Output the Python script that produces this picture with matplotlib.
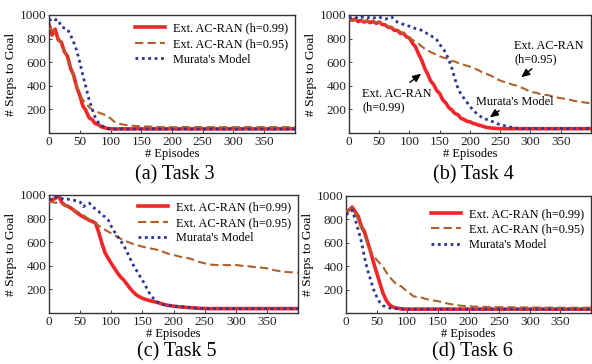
import matplotlib
matplotlib.use("Agg")
import matplotlib.pyplot as plt

episodes = list(range(0, 401, 5))

# ---- Task 3 ----
red_a = [920, 830, 880, 790, 770, 690, 650, 550, 490, 390, 320, 230, 190, 130, 115, 80, 72, 52, 46, 38,
         36, 35, 34, 35, 36, 35, 34, 35, 35, 36, 34, 35, 35, 34, 36, 35, 35, 34, 35, 36,
         35, 34, 35, 35, 36, 35, 34, 35, 35, 36, 34, 35, 35, 34, 36, 35, 35, 34, 35, 36,
         35, 34, 35, 35, 36, 35, 34, 35, 35, 36, 34, 35, 35, 34, 36, 35, 35, 34, 35, 36, 35]
brown_a = [890, 870, 850, 810, 760, 700, 630, 560, 470, 400, 330, 280, 250, 220, 200, 185, 175, 165, 155, 140,
           125, 100, 85, 78, 72, 68, 65, 62, 60, 58, 57, 56, 55, 54, 53, 52, 51, 50, 50, 50,
           50, 49, 50, 50, 51, 50, 49, 50, 50, 51, 50, 49, 50, 50, 51, 50, 49, 50, 50, 51,
           50, 49, 50, 50, 51, 50, 49, 50, 50, 51, 50, 49, 50, 50, 51, 50, 49, 50, 50, 51, 50]
blue_a = [950, 970, 960, 960, 900, 890, 880, 830, 770, 700, 600, 490, 390, 285, 205, 135, 90, 65, 50, 40,
          35, 33, 33, 34, 33, 33, 34, 33, 33, 34, 33, 33, 34, 33, 33, 34, 33, 33, 34, 33,
          33, 34, 33, 33, 34, 33, 33, 34, 33, 33, 34, 33, 33, 34, 33, 33, 34, 33, 33, 34,
          33, 33, 34, 33, 33, 34, 33, 33, 34, 33, 33, 34, 33, 33, 34, 33, 33, 34, 33, 33, 34]

# ---- Task 4 ----
red_b = [970, 955, 965, 945, 955, 940, 950, 935, 945, 930, 940, 920, 915, 895, 895, 870, 870, 845, 845, 815,
         805, 760, 730, 670, 620, 550, 500, 440, 410, 360, 335, 280, 255, 215, 195, 165, 155, 125, 115, 100,
         95, 82, 75, 65, 60, 50, 46, 42, 40, 38, 37, 36, 37, 36, 36, 37, 36, 36, 37, 36,
         36, 37, 36, 36, 37, 36, 36, 37, 36, 36, 37, 36, 36, 37, 36, 36, 37, 36, 36, 37, 36]
blue_b = [975, 980, 985, 970, 980, 985, 975, 985, 975, 980, 985, 970, 965, 975, 985, 960, 940, 930, 920, 910,
          905, 895, 885, 880, 870, 855, 840, 825, 810, 790, 750, 720, 680, 620, 550, 460, 380, 330, 295, 260,
          225, 195, 170, 150, 130, 120, 110, 100, 92, 80, 70, 65, 58, 52, 46, 42, 40, 38, 38, 38,
          38, 38, 38, 38, 38, 38, 38, 38, 38, 38, 38, 38, 38, 38, 38, 38, 38, 38, 38, 38, 38]
brown_b = [965, 960, 960, 955, 950, 950, 945, 945, 940, 940, 935, 925, 915, 905, 895, 885, 870, 858, 845, 825,
           805, 790, 770, 755, 735, 715, 700, 685, 675, 660, 650, 640, 635, 620, 610, 605, 595, 585, 578, 570,
           562, 550, 540, 530, 515, 506, 495, 485, 470, 455, 445, 435, 425, 420, 410, 405, 395, 385, 375, 362,
           352, 345, 340, 332, 325, 322, 320, 312, 305, 300, 295, 292, 288, 282, 275, 270, 265, 262, 258, 255, 250]

# ---- Task 5 ----
red_c = [950, 960, 970, 1000, 940, 915, 905, 890, 870, 850, 830, 815, 800, 785, 775, 760, 680, 590, 510, 465,
         420, 380, 340, 305, 280, 245, 210, 180, 155, 138, 125, 115, 108, 100, 95, 88, 80, 72, 66, 62,
         58, 55, 52, 50, 48, 46, 44, 42, 40, 39, 38, 37, 37, 37, 37, 37, 37, 37, 37, 37,
         37, 37, 37, 37, 37, 37, 37, 37, 37, 37, 37, 37, 37, 37, 37, 37, 37, 37, 37, 37, 37]
blue_c = [960, 970, 985, 975, 970, 960, 965, 960, 955, 950, 940, 900, 920, 930, 900, 880, 860, 830, 815, 790,
          735, 690, 650, 610, 575, 520, 465, 410, 365, 320, 280, 230, 180, 140, 110, 90, 78, 70, 66, 62,
          58, 56, 54, 52, 50, 47, 45, 42, 40, 39, 38, 37, 37, 37, 37, 37, 37, 37, 37, 37,
          37, 37, 37, 37, 37, 37, 37, 37, 37, 37, 37, 37, 37, 37, 37, 37, 37, 37, 37, 37, 37]
brown_c = [945, 940, 935, 930, 925, 915, 900, 885, 870, 860, 845, 830, 810, 790, 775, 760, 740, 720, 705, 690,
           675, 660, 645, 630, 615, 605, 595, 585, 578, 570, 562, 556, 550, 545, 540, 534, 525, 515, 505, 498,
           491, 485, 478, 472, 468, 463, 455, 445, 435, 428, 421, 415, 410, 408, 406, 407, 408, 405, 406, 407,
           407, 404, 400, 398, 396, 393, 390, 388, 385, 382, 379, 372, 365, 360, 355, 350, 348, 346, 345, 343, 342]

# ---- Task 6 ----
red_d = [860, 880, 905, 865, 825, 740, 695, 610, 525, 430, 345, 260, 175, 115, 75, 55, 45, 40, 36, 34,
         33, 33, 33, 33, 33, 33, 33, 33, 33, 33, 33, 33, 33, 33, 33, 33, 33, 33, 33, 33,
         33, 33, 33, 33, 33, 33, 33, 33, 33, 33, 33, 33, 33, 33, 33, 33, 33, 33, 33, 33,
         33, 33, 33, 33, 33, 33, 33, 33, 33, 33, 33, 33, 33, 33, 33, 33, 33, 33, 33, 33, 33]
blue_d = [840, 855, 880, 800, 710, 610, 480, 370, 285, 200, 140, 92, 64, 52, 44, 40, 38, 36, 33, 33,
          33, 33, 33, 33, 33, 33, 33, 33, 33, 33, 33, 33, 33, 33, 33, 33, 33, 33, 33, 33,
          33, 33, 33, 33, 33, 33, 33, 33, 33, 33, 33, 33, 33, 33, 33, 33, 33, 33, 33, 33,
          33, 33, 33, 33, 33, 33, 33, 33, 33, 33, 33, 33, 33, 33, 33, 33, 33, 33, 33, 33, 33]
brown_d = [870, 880, 900, 850, 795, 730, 668, 590, 526, 490, 455, 425, 398, 355, 313, 285, 257, 240, 228, 205,
           186, 165, 143, 138, 133, 129, 120, 115, 110, 105, 101, 95, 88, 82, 77, 72, 68, 64, 61, 59,
           58, 56, 55, 54, 53, 52, 52, 51, 51, 50, 50, 50, 49, 49, 49, 48, 48, 48, 48, 48,
           48, 47, 47, 47, 47, 46, 46, 46, 46, 46, 45, 45, 45, 45, 45, 45, 45, 45, 45, 45, 45]

labels = ["Ext. AC-RAN (h=0.99)", "Ext. AC-RAN (h=0.95)", "Murata's Model"]
titles = ["(a) Task 3", "(b) Task 4", "(c) Task 5", "(d) Task 6"]
xticks = [0, 50, 100, 150, 200, 250, 300, 350]
yticks = [200, 400, 600, 800, 1000]

RED = "#f0262b"
BROWN = "#b0612a"
BLUE = "#2b3592"
FONT = "Liberation Serif"
plt.rcParams["font.family"] = FONT

W, H = 592.0, 364.0
fig = plt.figure(figsize=(W / 100, H / 100), dpi=100)
positions = [
    [0.0828, 0.6346, 0.4155, 0.3242],
    [0.5895, 0.6346, 0.4088, 0.3242],
    [0.0828, 0.1401, 0.4206, 0.3242],
    [0.5845, 0.1401, 0.4139, 0.3215],
]
title_xy = [(175, 175), (473, 175), (177, 352), (472, 352)]
data = [(red_a, brown_a, blue_a), (red_b, brown_b, blue_b),
        (red_c, brown_c, blue_c), (red_d, brown_d, blue_d)]
legend_anchor = [(1.0, 1.0), None, (1.0, 1.01), (1.0, 0.96)]

for i, (pos, (r, b, u)) in enumerate(zip(positions, data)):
    ax = fig.add_axes(pos)
    ax.plot(episodes, r, color=RED, lw=2.6, label=labels[0], zorder=2)
    ax.plot(episodes, b, color=BROWN, lw=1.5, dashes=(4.0, 2.0), label=labels[1], zorder=3)
    ax.plot(episodes, u, color=BLUE, lw=2.0, dashes=(1.0, 1.3), label=labels[2], zorder=4)
    ax.set_xlim(0, 400)
    ax.set_ylim(0, 1000)
    ax.set_xticks(xticks)
    ax.set_yticks(yticks)
    ax.tick_params(direction="in", length=2, width=0.6, labelsize=9.5, pad=2, colors="#222222")
    for s in ax.spines.values():
        s.set_color("#333333")
        s.set_linewidth(1.0)
    ax.set_xlabel("# Episodes", fontsize=9, labelpad=0)
    ax.set_ylabel("# Steps to Goal", fontsize=9.7, labelpad=2)
    fig.text(title_xy[i][0] / W, 1 - title_xy[i][1] / H, titles[i], fontsize=14.5,
             ha="center", va="center")
    if legend_anchor[i] is not None:
        ax.legend(loc="upper right", bbox_to_anchor=legend_anchor[i], frameon=False, fontsize=8.8,
                  handlelength=2.5, handletextpad=0.6, labelspacing=0.3, borderaxespad=0.2)
    else:
        akw = dict(arrowstyle="-|>,head_length=0.5,head_width=0.22", color="black", lw=1.0)
        ax.annotate("Ext. AC-RAN\n(h=0.95)", xy=(281, 458), xytext=(273, 682), fontsize=8.8,
                    ha="left", va="center", linespacing=1.1)
        ax.annotate("", xy=(281, 458), xytext=(306, 559), arrowprops=akw)
        ax.annotate("Ext. AC-RAN\n(h=0.99)", xy=(0, 0), xytext=(22, 275), fontsize=8.8,
                    ha="left", va="center", linespacing=1.1)
        ax.annotate("", xy=(123, 517), xytext=(97, 415), arrowprops=akw)
        ax.annotate("Murata's Model", xy=(0, 0), xytext=(210, 263), fontsize=8.8,
                    ha="left", va="center")
        ax.annotate("", xy=(229, 119), xytext=(252, 203), arrowprops=akw)

fig.savefig("out.png", dpi=100)
